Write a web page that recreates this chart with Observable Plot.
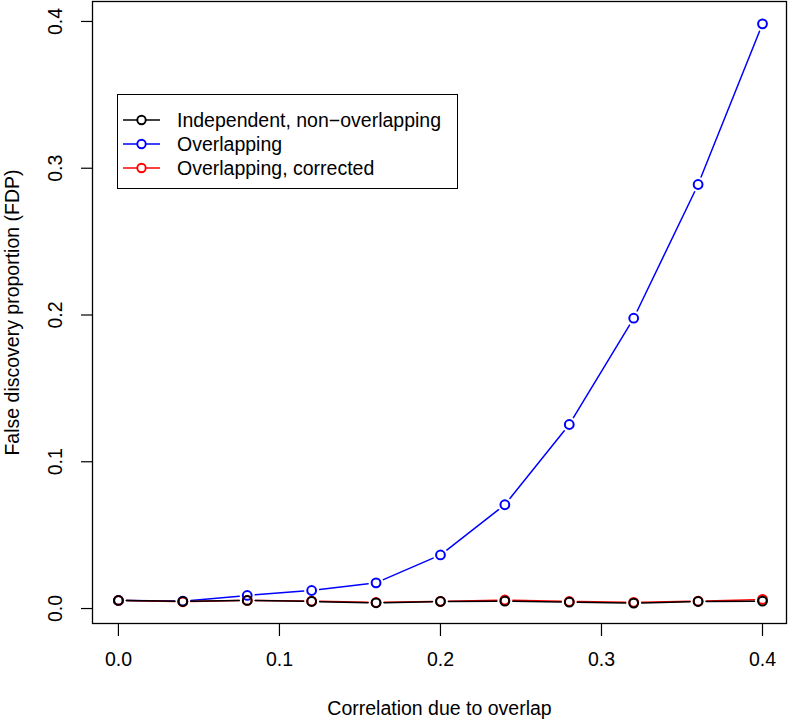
<!DOCTYPE html>
<html>
<head>
<meta charset="utf-8">
<script src="https://cdn.jsdelivr.net/npm/d3@7"></script>
<script src="https://cdn.jsdelivr.net/npm/@observablehq/plot@0.6"></script>
<style>
  html, body { margin: 0; padding: 0; background: #fff; }
  #wrap { position: relative; width: 788px; height: 719px; font-family: "Liberation Sans", Arial, sans-serif; }
  #legend { position: absolute; left: 117px; top: 94px; width: 341px; height: 95px; border: 1.3px solid #000; background: #fff; box-sizing: border-box; padding-top: 13px; }
  .row { display: flex; align-items: center; height: 24px; font-size: 19.5px; color: #000; }
  .row svg { margin-left: 5px; margin-right: 17px; }
</style>
</head>
<body>
<div id="wrap"></div>
<script>
// ---- data ----
const correlation = [0, 0.04, 0.08, 0.12, 0.16, 0.20, 0.24, 0.28, 0.32, 0.36, 0.40];
const independent = [0.0055, 0.0048, 0.0055, 0.0048, 0.0039, 0.0048, 0.0050, 0.0043, 0.0037, 0.0048, 0.0050];
const overlapping = [0.0055, 0.0050, 0.0089, 0.0123, 0.0175, 0.0365, 0.0707, 0.1254, 0.1978, 0.2889, 0.3984];
const corrected   = [0.0055, 0.0046, 0.0055, 0.0050, 0.0041, 0.0049, 0.0058, 0.0048, 0.0042, 0.0050, 0.0062];
const seriesNames = ["Independent, non\u2212overlapping", "Overlapping", "Overlapping, corrected"];
const seriesColors = ["#000000", "#0000ff", "#ff0000"];
const xTicks = [0, 0.1, 0.2, 0.3, 0.4];
const yTicks = [0, 0.1, 0.2, 0.3, 0.4];
const xLabel = "Correlation due to overlap";
const yLabel = "False discovery proportion (FDP)";

const seriesValues = [independent, overlapping, corrected];
function points(vals) { return correlation.map((x, i) => ({x, y: vals[i]})); }
function segments(vals) {
  const out = [];
  for (let i = 0; i < correlation.length - 1; i++) {
    out.push({x1: correlation[i], y1: vals[i], x2: correlation[i + 1], y2: vals[i + 1]});
  }
  return out;
}

// draw order: blue, red, black (black on top)
const order = [1, 2, 0];
const seriesMarks = order.flatMap(k => [
  Plot.arrow(segments(seriesValues[k]), {
    x1: "x1", y1: "y1", x2: "x2", y2: "y2",
    stroke: seriesColors[k], strokeWidth: 1.5, headLength: 0, inset: 8, bend: 0
  }),
  Plot.dot(points(seriesValues[k]), {
    x: "x", y: "y", r: 4.4, stroke: seriesColors[k], strokeWidth: 2, fill: "none"
  })
]);

const chart = Plot.plot({
  width: 788,
  height: 719,
  marginLeft: 92,
  marginRight: 2,
  marginTop: 1,
  marginBottom: 96,
  style: { fontFamily: "Liberation Sans, Arial, sans-serif", fontSize: "19.5px", color: "#000", background: "#fff" },
  x: { domain: [-0.0161, 0.4149] },
  y: { domain: [-0.0102, 0.4136] },
  marks: [
    Plot.axisX({ ticks: xTicks, tickSize: 13, tickPadding: 16, tickFormat: d3.format(".1f"), label: null, fontSize: 19.5, strokeWidth: 1.2 }),
    Plot.axisY({ ticks: yTicks, tickSize: 11, tickPadding: 20, tickRotate: -90, tickFormat: d3.format(".1f"), label: null, fontSize: 19.5, strokeWidth: 1.2 }),
    Plot.text([xLabel], { text: d => d, frameAnchor: "bottom", dy: 85, fontSize: 19.5, lineAnchor: "middle" }),
    Plot.text([yLabel], { text: d => d, frameAnchor: "left", dx: -80, rotate: -90, fontSize: 19.5, lineAnchor: "middle", textAnchor: "middle" }),
    ...seriesMarks,
    Plot.frame({ stroke: "#000", strokeWidth: 1.3 })
  ]
});

const wrap = document.getElementById("wrap");
wrap.appendChild(chart);

// legend (HTML overlay inside plot region)
const legend = document.createElement("div");
legend.id = "legend";
seriesNames.forEach((name, i) => {
  const row = document.createElement("div");
  row.className = "row";
  const c = seriesColors[i];
  row.innerHTML = `<svg width="37" height="20"><line x1="0" y1="10" x2="37" y2="10" stroke="${c}" stroke-width="1.5"/><circle cx="18.5" cy="10" r="4.2" fill="#fff" stroke="${c}" stroke-width="1.9"/></svg><span>${name}</span>`;
  legend.appendChild(row);
});
wrap.appendChild(legend);
</script>
</body>
</html>
